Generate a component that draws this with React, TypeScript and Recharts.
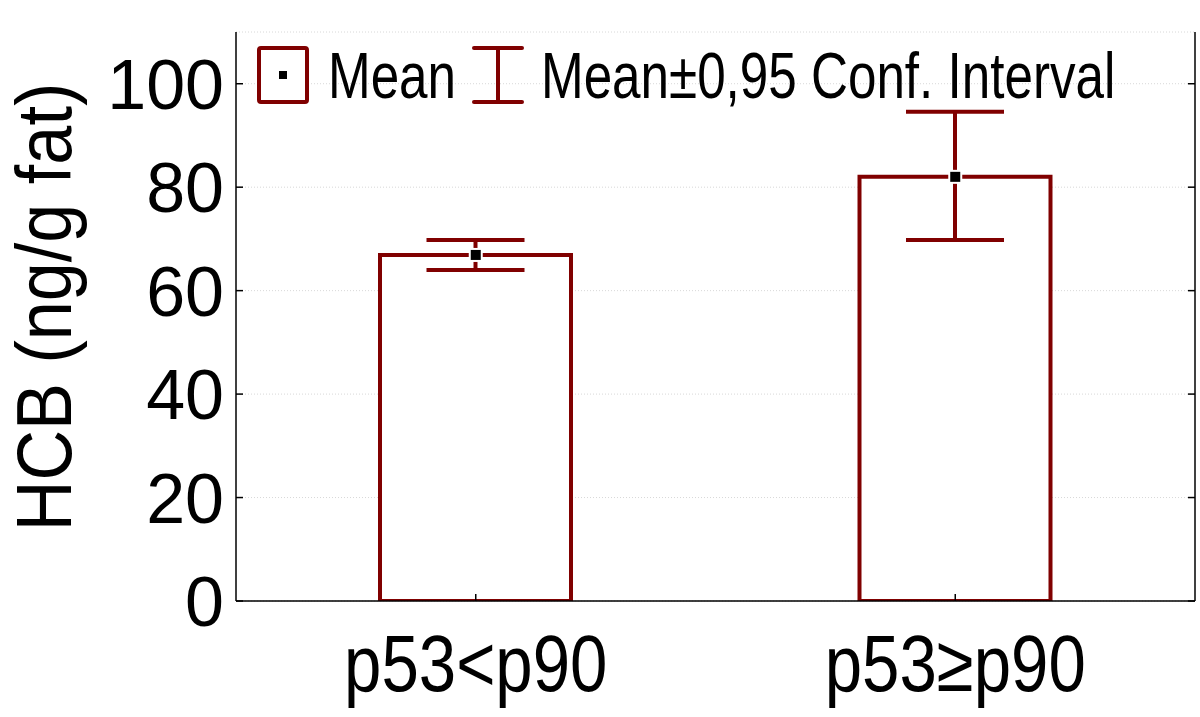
import React from "react";
import {
  ComposedChart,
  Bar,
  ErrorBar,
  Scatter,
  XAxis,
  YAxis,
  CartesianGrid,
} from "recharts";

const categories = ["p53<p90", "p53\u2265p90"];
const means = [66.9, 82.0];
const lowerCI = [64.0, 69.8];
const upperCI = [69.8, 94.6];
const yTicks = [0, 20, 40, 60, 80, 100];

const data = categories.map((name, i) => ({
  name,
  mean: means[i],
  err: [means[i] - lowerCI[i], upperCI[i] - means[i]],
}));

const RED = "#800000";
const FONT = "'Liberation Sans', Arial, sans-serif";

const LeftTick = (props: any) => {
  const { x, y, payload } = props;
  return (
    <g>
      <line x1={x} y1={y} x2={x + 7} y2={y} stroke="#000" strokeWidth={1.5} />
      <text
        x={x - 12}
        y={y + 25}
        textAnchor="end"
        fontFamily={FONT}
        fontSize={70}
        fill="#000"
      >
        {payload.value}
      </text>
    </g>
  );
};

const RightTick = (props: any) => {
  const { x, y } = props;
  return <line x1={x - 7} y1={y} x2={x} y2={y} stroke="#000" strokeWidth={1.5} />;
};

const BottomTick = (props: any) => {
  const { x, y, payload } = props;
  return (
    <g>
      <line x1={x} y1={y} x2={x} y2={y - 7} stroke="#000" strokeWidth={1.5} />
      <text
        transform={`translate(${x},${y + 90}) scale(0.84,1)`}
        textAnchor="middle"
        fontFamily={FONT}
        fontSize={80}
        fill="#000"
      >
        {payload.value}
      </text>
    </g>
  );
};

const TopTick = (props: any) => {
  const { x, y } = props;
  return <line x1={x} y1={y} x2={x} y2={y + 7} stroke="#000" strokeWidth={1.5} />;
};

const MeanMarker = (props: any) => {
  const { cx, cy } = props;
  return (
    <rect x={cx - 6} y={cy - 6} width={12} height={12} fill="#000" stroke="#fff" strokeWidth={2} />
  );
};

export default function App() {
  return (
    <div style={{ position: "absolute", left: 0, top: 0, width: 1200, height: 717, background: "#fff" }}>
      <ComposedChart
        width={1200}
        height={717}
        data={data}
        margin={{ top: 32, right: 4, bottom: 0, left: 0 }}
      >
        <CartesianGrid
          horizontal={true}
          vertical={false}
          stroke="#d8d8d8"
          strokeDasharray="1 2"
        />
        <XAxis
          dataKey="name"
          type="category"
          height={116}
          tickSize={0}
          tickMargin={0}
          axisLine={{ stroke: "#000", strokeWidth: 1.5 }}
          tickLine={false}
          tick={<BottomTick />}
          interval={0}
        />
        <XAxis
          xAxisId="top"
          dataKey="name"
          type="category"
          orientation="top"
          height={0}
          tickSize={0}
          tickMargin={0}
          axisLine={{ stroke: "#000", strokeWidth: 1.5 }}
          tickLine={false}
          tick={<TopTick />}
          interval={0}
        />
        <YAxis
          width={236}
          domain={[0, 110]}
          ticks={yTicks}
          type="number"
          tickSize={0}
          tickMargin={0}
          axisLine={{ stroke: "#000", strokeWidth: 1.5 }}
          tickLine={false}
          tick={<LeftTick />}
          allowDataOverflow
          label={{
            value: "HCB (ng/g fat)",
            angle: -90,
            position: "insideLeft",
            content: () => (
              <text
                transform={`translate(71,307) rotate(-90) scale(0.9,1)`}
                textAnchor="middle"
                fontFamily={FONT}
                fontSize={78}
                fill="#000"
              >
                HCB (ng/g fat)
              </text>
            ),
          }}
        />
        <YAxis
          yAxisId="right"
          orientation="right"
          width={1}
          domain={[0, 110]}
          ticks={yTicks}
          type="number"
          tickSize={0}
          tickMargin={0}
          axisLine={{ stroke: "#000", strokeWidth: 1.5 }}
          tickLine={false}
          tick={<RightTick />}
          allowDataOverflow
        />
        <Bar
          dataKey="mean"
          fill="#fff"
          stroke={RED}
          strokeWidth={4}
          barSize={191}
          isAnimationActive={false}
        >
          <ErrorBar dataKey="err" width={49} stroke={RED} strokeWidth={4} direction="y" />
        </Bar>
        <Scatter dataKey="mean" shape={<MeanMarker />} isAnimationActive={false} />
      </ComposedChart>
      <svg
        width={1200}
        height={717}
        style={{ position: "absolute", left: 0, top: 0, pointerEvents: "none" }}
      >
        <rect x={259} y={48} width={48} height={54} fill="#fff" stroke={RED} strokeWidth={4} rx={2} />
        <rect x={279} y={71} width={8} height={8} fill="#000" />
        <text
          transform="translate(328,98) scale(0.8,1)"
          fontFamily={FONT}
          fontSize={64}
          fill="#000"
        >
          Mean
        </text>
        <line x1={474} y1={48} x2={522} y2={48} stroke={RED} strokeWidth={4} strokeLinecap="round" />
        <line x1={474} y1={102} x2={522} y2={102} stroke={RED} strokeWidth={4} strokeLinecap="round" />
        <line x1={498} y1={48} x2={498} y2={102} stroke={RED} strokeWidth={4} />
        <text
          transform="translate(541,98) scale(0.8,1)"
          fontFamily={FONT}
          fontSize={64}
          fill="#000"
        >
          Mean±0,95 Conf. Interval
        </text>
      </svg>
    </div>
  );
}
